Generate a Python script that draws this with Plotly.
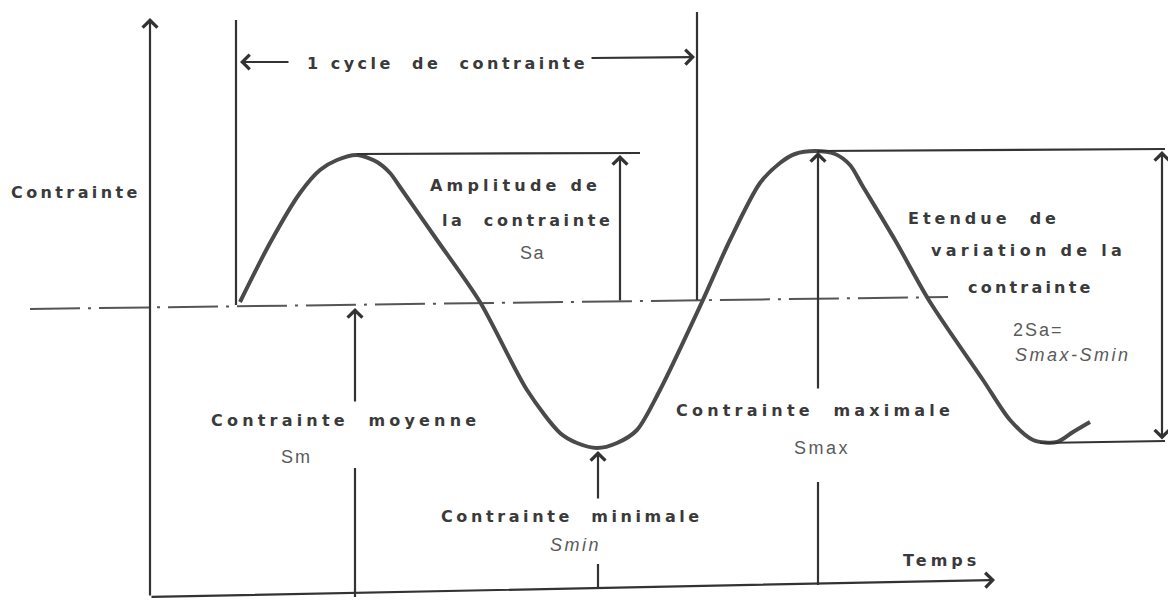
import plotly.graph_objects as go

# Stress history: key points of the wave (time, stress); mean stress Sm = 0
wave_t = [240, 270, 300, 320, 337, 357, 377, 390, 400, 437, 480, 527, 560, 577,
          597, 617, 637, 660, 702, 730, 760, 780, 795, 815, 835, 850, 862, 895,
          930, 983, 1010, 1033, 1057, 1073, 1090]
wave_s = [0, 59, 109, 132, 142, 147, 140, 129, 115, 62, 0, -88, -131, -141,
          -146, -141, -128, -88, 0, 62, 119, 139, 148, 151, 148, 137, 117, 62,
          0, -78, -118, -138, -140, -130, -120]

# Characteristic stress levels
s_mean = 0
s_max_1 = 148
s_max_2 = 151
s_min_1 = -146
s_min_2 = -139

# Characteristic instants
t_cycle_start = 236
t_cycle_end = 697
t_peak_1 = 357
t_peak_2 = 817
t_trough_1 = 598
t_trough_2 = 1040

# Frame of the diagram (time axis, stress axis)
t_origin, s_origin = 150, -295
s_axis_top = 284
t_axis_end, s_axis_end = 995, -278

INK = "#333333"
CURVE = "#4a4a4a"
TEXT = "#3a3a3a"
SOFT = "#5a5a5a"
BOLD_FONT = "DejaVu Sans"
THIN_FONT = "Liberation Sans"

fig = go.Figure()


def seg(t, s, width=2.2, color=INK, dash=None):
    fig.add_trace(go.Scatter(x=t, y=s, mode="lines", hoverinfo="skip",
                             line=dict(color=color, width=width, dash=dash)))


# mean stress line (dash-dot)
seg([30, 948], [s_mean - 7, s_mean + 5], width=2, color="#555555",
    dash="50px,8px,3px,8px")

# stress wave
fig.add_trace(go.Scatter(x=wave_t, y=wave_s, mode="lines", hoverinfo="skip",
                         line=dict(color=CURVE, width=4, shape="spline", smoothing=0.8)))

# cycle boundaries
seg([t_cycle_start, t_cycle_start], [s_mean - 3, 282])
seg([t_cycle_end, t_cycle_end], [s_mean + 2, 290])

# level lines through the extrema
seg([t_peak_1, 640], [s_max_1, s_max_1 + 1])
seg([t_peak_2, 1165], [s_max_2, s_max_2 + 2])
seg([t_trough_2, 1165], [s_min_2 - 2, s_min_2])

# plain shafts of the split arrows
seg([355, 355], [s_origin, -166])
seg([t_trough_1, t_trough_1], [-286, -262])
seg([t_peak_2 + 1, t_peak_2 + 1], [-283, -180])

annotations = []


def arrow(t0, s0, t1, s1, side="end", width=2.2):
    annotations.append(dict(
        x=t1, y=s1, ax=t0, ay=s0, xref="x", yref="y", axref="x", ayref="y",
        text="", showarrow=True, arrowhead=4, startarrowhead=4, arrowside=side,
        arrowsize=1.3, startarrowsize=1.3, arrowwidth=width, arrowcolor=INK,
        standoff=0, startstandoff=0))


# axes
arrow(t_origin, s_origin, t_origin, s_axis_top)
arrow(t_origin, s_origin, t_axis_end, s_axis_end)

# one cycle
arrow(290, 240, t_cycle_start + 4, 240)
arrow(590, 244, t_cycle_end - 2, 245)

# amplitude, mean, minimum, maximum, range
arrow(620, s_mean, 620, s_max_1 - 1)
arrow(355, -101, 355, s_mean - 6)
arrow(t_trough_1, -198, t_trough_1, s_min_1 - 3)
arrow(t_peak_2 + 1, -88, t_peak_2 + 1, s_max_2 - 1)
arrow(1162, s_min_2, 1162, s_max_2, side="end+start")


def label(t, s, txt, size=16, bold=True, italic=False, anchor="center", spacing=4.0):
    body = txt
    if spacing:
        body = f'<span style="letter-spacing:{spacing}px">{txt}</span>'
    if bold:
        body = f"<b>{body}</b>"
    if italic:
        body = f"<i>{body}</i>"
    annotations.append(dict(
        x=t, y=s, xref="x", yref="y", text=body, showarrow=False,
        xanchor=anchor, yanchor="middle",
        font=dict(family=BOLD_FONT if bold else THIN_FONT, size=size,
                  color=TEXT if bold else SOFT)))


label(76, 110, "Contrainte", spacing=3.4)
label(447, 239, "1 cycle  de  contrainte", spacing=3.5)
label(515, 117, "Amplitude de", spacing=4.2)
label(527, 82, "la  contrainte", spacing=3.6)
label(532, 49, "Sa", size=18, bold=False, spacing=1.5)
label(984, 84, "Etendue  de", spacing=4.0)
label(1028, 52, "variation de la", spacing=4.3)
label(1031, 15, "contrainte", spacing=3.2)
label(1011, -28, "2Sa=", size=18, bold=False, spacing=2, anchor="left")
label(1013, -53, "Smax-Smin", size=18, bold=False, italic=True, spacing=2.5, anchor="left")
label(345, -118, "Contrainte  moyenne", spacing=4.2)
label(296, -155, "Sm", size=18, bold=False, spacing=2)
label(572, -214, "Contrainte  minimale", spacing=3.6)
label(575, -243, "Smin", size=18, bold=False, italic=True, spacing=2.5)
label(815, -108, "Contrainte  maximale", spacing=4.2)
label(822, -146, "Smax", size=18, bold=False, spacing=2.5)
label(941, -258, "Temps", spacing=4.0)

fig.update_layout(
    width=1168, height=601,
    margin=dict(l=0, r=0, t=0, b=0),
    paper_bgcolor="white", plot_bgcolor="white",
    showlegend=False,
    xaxis=dict(range=[0, 1168], visible=False, fixedrange=True),
    yaxis=dict(range=[-299, 302], visible=False, fixedrange=True),
    annotations=annotations,
)

fig.write_html("out.html")
